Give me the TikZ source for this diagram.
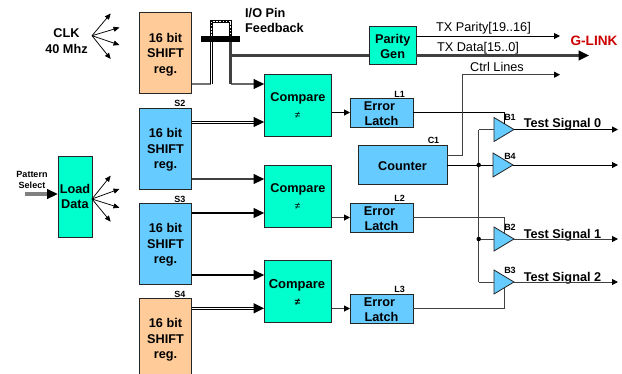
\documentclass[tikz,border=0pt]{standalone}
\usepackage{fontspec}
\setmainfont{Liberation Sans}
\usetikzlibrary{arrows.meta,shapes.geometric,calc}
\definecolor{orangebox}{HTML}{FFCC99}
\definecolor{bluebox}{HTML}{66CCFF}
\definecolor{tealbox}{HTML}{00FFCC}
\definecolor{wiregray}{HTML}{404040}
\definecolor{glink}{HTML}{CC0000}
\tikzset{
  fbig/.style={font=\fontsize{12.7}{15.3}\selectfont\bfseries},
  fplain/.style={font=\fontsize{12.7}{15}\selectfont},
  fsmall/.style={font=\fontsize{9}{10.5}\selectfont\bfseries},
  block/.style={draw=black!85,line width=.9pt,inner sep=0pt,align=center,fbig},
  shiftor/.style={block,fill=orangebox,minimum width=52pt,minimum height=81pt},
  shiftbl/.style={block,fill=bluebox,minimum width=52pt,minimum height=81pt},
  cmp/.style={block,fill=tealbox,minimum width=67pt,minimum height=62pt},
  latch/.style={block,fill=bluebox,minimum width=62.5pt,minimum height=29pt},
  buf/.style={draw=black!85,line width=.8pt,fill=bluebox,isosceles triangle,isosceles triangle stretches,
     minimum width=24pt,minimum height=20pt,inner sep=0pt,outer sep=0pt,anchor=apex},
  tag/.style={fsmall,inner sep=0pt},
  lbl/.style={fbig,inner sep=0pt},
  headbig/.style={fill=black,draw=none},
  smallhead/.style={-{Triangle[length=6pt,width=6pt,color=black,fill=black]}},
  thinwire/.style={line width=1pt,draw=black},
  graywire/.style={line width=1pt,draw=wiregray},
  fatwire/.style={line width=2.6pt,draw=wiregray},
  blackwire/.style={line width=2.2pt,draw=black},
  dblwire/.style={double=white,double distance=1pt,line width=1pt,draw=black},
  fan/.style={line width=.75pt,draw=black,-{Triangle[length=6pt,width=5pt]}},
  jdot/.style={circle,fill=black,inner sep=0pt,minimum size=4.5pt},
}
\newcommand{\bigtip}[1]{\fill[headbig] ([xshift=-10.5pt,yshift=5.2pt]#1) -- (#1) -- ([xshift=-10.5pt,yshift=-5.2pt]#1) -- cycle;}
\begin{document}
\begin{tikzpicture}[x=1pt,y=-1pt]
\useasboundingbox (0,0) rectangle (622,373);
% shift registers
\begin{scope}
\clip (0,0) rectangle (622,373);
\node[shiftor] (S4) at (165.5,338.5) {};
\end{scope}
\node[shiftor] (S1) at (165.5,53) {};
\node[shiftbl] (S2) at (165.5,148.5) {};
\node[shiftbl] (S3) at (165.5,243.5) {};
\node[lbl,align=center] (S1t) at (165.5,54.5) {16 bit\\SHIFT\\reg.};
\node[lbl,align=center] (S2t) at (165.5,150) {16 bit\\SHIFT\\reg.};
\node[lbl,align=center] (S3t) at (165.5,245) {16 bit\\SHIFT\\reg.};
\node[lbl,align=center] (S4t) at (165.5,340) {16 bit\\SHIFT\\reg.};
\node[tag] (tS2) at (180,103) {S2};
\node[tag] (tS3) at (180,199) {S3};
\node[tag] (tS4) at (180,294) {S4};
% load
\node[block,fill=tealbox,minimum width=34pt,minimum height=81pt] (LD) at (75,196.5) {Load\\Data};
\node[lbl,fsmall,align=center] (PS) at (32,180) {Pattern\\Select};
\coordinate (PSin) at (25,194);
% compare
\node[cmp] (C1) at (298,105.5) {};
\node[cmp] (C2) at (298,196.5) {};
\node[cmp] (C3) at (298,291.5) {};
\node[lbl] (C1t) at (298,98) {Compare};
\node[lbl] (C2t) at (298,189) {Compare};
\node[lbl,font=\fontsize{13}{15}\selectfont\bfseries] (C3t) at (297,285) {Compare};
\node[inner sep=0pt,font=\fontsize{10}{12}\selectfont] (C1n) at (297.5,115.5) {≠};
\node[inner sep=0pt,font=\fontsize{10}{12}\selectfont] (C2n) at (297.5,206.5) {≠};
\node[inner sep=0pt,font=\fontsize{10}{12}\selectfont\bfseries] (C3n) at (297.5,302) {≠};
% latches
\node[latch] (L1) at (381.7,112.5) {};
\node[latch] (L2) at (381.7,217.5) {};
\node[latch] (L3) at (381.7,308.5) {};
\foreach \n/\y in {L1/112.5,L2/217.5,L3/308.5}{
  \node[lbl] (\n e) at (379.5,\y-6.5) {Error};
  \node[lbl] (\n l) at (381.5,\y+8.5) {Latch};
}
\node[tag] (tL1) at (399.5,94) {L1};
\node[tag] (tL2) at (399.5,198.5) {L2};
\node[tag] (tL3) at (399.5,289) {L3};
% counter, parity
\node[block,fill=bluebox,minimum width=89pt,minimum height=38.5pt] (CT) at (402.5,165) {};
\node[lbl] (CTt) at (402.5,166) {Counter};
\node[tag] (tC1) at (433.5,140.5) {C1};
\node[block,fill=tealbox,minimum width=46.5pt,minimum height=38pt] (PG) at (392.7,45.5) {};
\node[lbl,align=center] (PGt) at (392.7,46.3) {Parity\\Gen};
% buffers
\node[buf] (B1) at (514,129.5) {};
\node[buf] (B4) at (513,165) {};
\node[buf] (B2) at (514,239) {};
\node[buf] (B3) at (514,282) {};
\node[tag] (tB1) at (510,117) {B1};
\node[tag] (tB4) at (510,156) {B4};
\node[tag] (tB2) at (510,227) {B2};
\node[tag] (tB3) at (510,270) {B3};
% pin bar
\node[fill=black,minimum width=39pt,minimum height=6pt,inner sep=0pt] (BAR) at (220.5,39) {};
\coordinate (loopL) at (211.5,36);
\coordinate (loopR) at (230.5,36);
\draw[line width=3.6pt,black] (loopL) -- (211.5,21.5) -- (230.5,21.5) -- (loopR);
\draw[line width=1.8pt,white,dash pattern=on 1.6pt off 1.6pt] (loopL) -- (211.5,21.5) -- (230.5,21.5) -- (loopR);
% labels
\node[lbl,align=center] (CLK) at (66.5,41) {CLK\\40 Mhz};
\node[lbl,anchor=base west] (IO1) at (245,17) {I/O Pin};
\node[lbl,anchor=base west] (IO2) at (245,32) {Feedback};
\node[fplain,inner sep=0pt] (TP) at (483.5,28) {TX Parity[19..16]};
\node[fplain,inner sep=0pt] (TD) at (478,48) {TX Data[15..0]};
\node[fplain,inner sep=0pt] (CL) at (497,66.5) {Ctrl Lines};
\node[lbl,text=glink,font=\fontsize{13.6}{15}\selectfont\bfseries] (GL) at (594,41) {G-LINK};
\node[lbl] (T0) at (562.5,124.5) {Test Signal 0};
\node[lbl] (T1) at (562.5,235) {Test Signal 1};
\node[lbl] (T2) at (562.5,278) {Test Signal 2};
% free ends
\coordinate (clk0) at (92,35.7);
\coordinate (ld0) at (92,199);
\coordinate (eTP) at (560,36);
\coordinate (eTD) at (589,55.5);
\coordinate (eCL) at (560,74.7);
\coordinate (eT0) at (618,129.5);
\coordinate (eT4) at (618,165);
\coordinate (eT1) at (618,239);
\coordinate (eT2) at (618,282);
\coordinate (enTop) at (478.7,129.5);
\coordinate (enBot) at (478.7,282);
\coordinate (j1) at (478.7,165);
\coordinate (j2) at (478.7,239);
\coordinate (s1bar) at (211,84);
\coordinate (s1a) at (230.5,84);
\coordinate (s1b) at (230.5,55.5);
\coordinate (PSe) at ([yshift=2.5pt]LD.west);
\coordinate (C1a) at ([yshift=21.5pt]C1.west);
\coordinate (C1b) at ([yshift=-16.5pt]C1.west);
\coordinate (C2a) at ([yshift=17.5pt]C2.west);
\coordinate (C2b) at ([yshift=-16.5pt]C2.west);
\coordinate (C3a) at ([yshift=16.5pt]C3.west);
\coordinate (C3b) at ([yshift=-16.8pt]C3.west);
% fans
\foreach \x/\y in {110.7/13.5,119.5/27.5,119.5/45,110.7/59}{\draw[fan] (clk0) -- (\x,\y);}
\foreach \x/\y in {110.7/175.7,119.5/189,119.5/207.7,110.7/221.7}{\draw[fan] (ld0) -- (\x,\y);}
% pattern select
\draw[line width=3.2pt,draw=black!50] (PSin) -- ([xshift=-9pt]PSe);
\bigtip{PSe}
% shift outputs
\draw[line width=2pt,draw=black!55] ([yshift=-31pt]S1.east) -- (s1bar);
\draw[dblwire] (s1bar) -- (BAR.south -| s1bar);
\draw[fatwire,draw=black!60] (s1a) -- ([xshift=-9pt]C1a);
\draw[fatwire] (BAR.south -| s1a) -- (s1a);
\bigtip{C1a}
\draw[fatwire] (s1b) -- (PG.west |- s1b);
\draw[fatwire,black!75] (PG.east |- s1b) -- ([xshift=-9pt]eTD);
\bigtip{eTD}
\draw[dblwire] ([yshift=26.5pt]S2.east) -- ([xshift=-9pt]C1b);
\bigtip{C1b}
\draw[fatwire] ([yshift=-30.5pt]S2.east) -- ([xshift=-9pt]C2a);
\bigtip{C2a}
\draw[blackwire] ([yshift=30.5pt]S3.east) -- ([xshift=-9pt]C2b);
\bigtip{C2b}
\draw[blackwire] ([yshift=-31.5pt]S3.east) -- ([xshift=-9pt]C3a);
\bigtip{C3a}
\draw[dblwire] ([yshift=30.2pt]S4.east) -- ([xshift=-9pt]C3b);
\bigtip{C3b}
% compare to latch
\draw[thinwire,smallhead] ([yshift=-7pt]C1.east) -- (L1.west);
\draw[graywire,smallhead] ([yshift=-21pt]C2.east) -- (L2.west);
\draw[graywire,smallhead] ([yshift=-17pt]C3.east) -- (L3.west);
% latch to buffer
\draw[thinwire] (L1.east) -| (B1.left side);
\draw[graywire] (L2.east) -| (B2.left side);
\draw[graywire] (L3.east) -| (B3.right side);
% counter, enables
\draw[thinwire] (CT.east) -- (B4.lower side);
\draw[graywire] (enTop) -- (enBot);
\draw[graywire] (enTop) -- (B1.lower side);
\draw[graywire] (j2) -- (B2.lower side);
\draw[graywire] (enBot) -- (B3.lower side);
\node[jdot] (d1) at (j1) {};
\node[jdot] (d2) at (j2) {};
\draw[graywire,smallhead] ([yshift=9.5pt]CT.east) -- (462.7,155.5) |- (eCL);
\draw[thinwire,smallhead] (PG.east |- eTP) -- (eTP);
% outputs
\draw[thinwire,smallhead] (B1.apex) -- (eT0);
\draw[thinwire,smallhead] (B4.apex) -- (eT4);
\draw[graywire,smallhead] (B2.apex) -- (eT1);
\draw[graywire,smallhead] (B3.apex) -- (eT2);
\end{tikzpicture}
\end{document}
